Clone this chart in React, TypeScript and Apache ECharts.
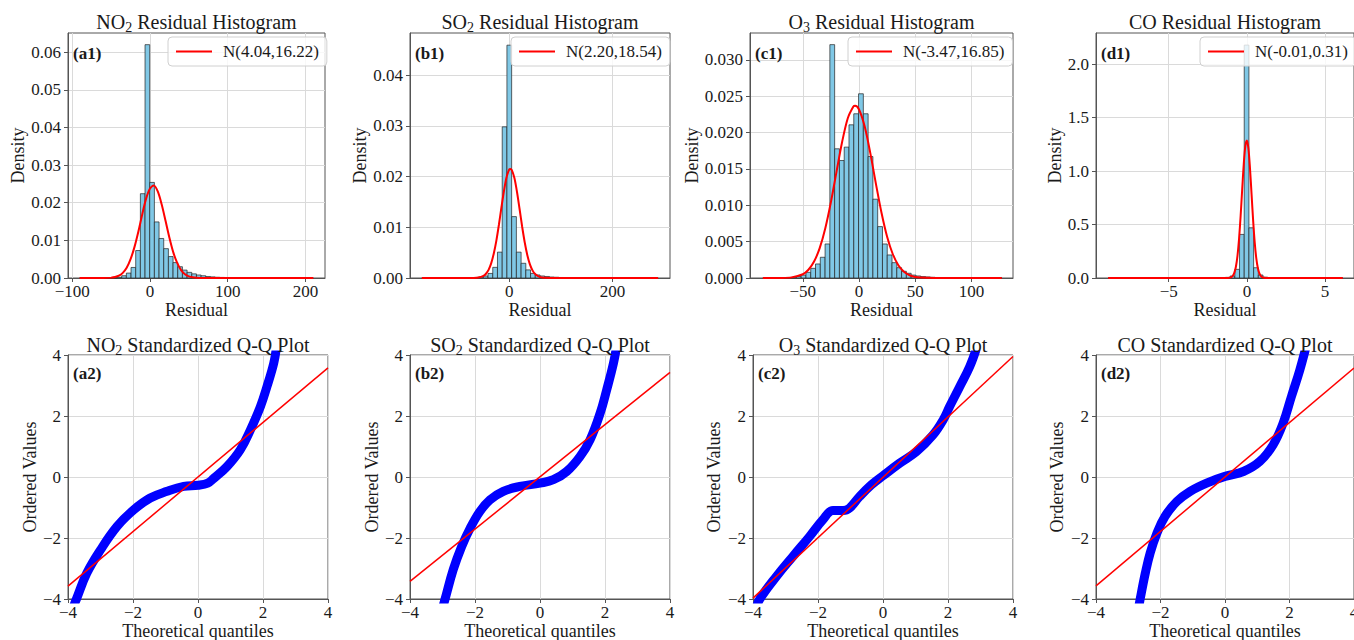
import React, { useEffect, useRef } from "react";
import * as echarts from "echarts";

const FONT = "Liberation Serif";

// ---------- histogram bins (first edge, width, densities) ----------
const no2BinStart = -90.5;
const no2BinWidth = 6.01;
const no2Density = [
  0, 0, 0, 0, 0, 0, 0.00002, 0.00005, 0.0002, 0.0006,
  0.0013, 0.0028, 0.0073, 0.0224, 0.062, 0.0254, 0.0149, 0.0105, 0.0078, 0.0057,
  0.0041, 0.003, 0.0021, 0.0015, 0.0011, 0.0008, 0.0006, 0.0004, 0.0003, 0.0002,
  0.00015, 0.0001, 0.00008, 0.00006, 0.00005, 0.00004, 0.00003, 0.00002, 0.00002, 0.00001,
  0.00001, 0.00001, 0.00001, 0.00001, 0, 0, 0, 0, 0, 0,
];

const so2BinStart = -169;
const so2BinWidth = 9.14;
const so2Density = [
  0, 0, 0, 0, 0, 0, 0, 0, 0.00001, 0.00001,
  0.00001, 0.0001, 0.0002, 0.0004, 0.0009, 0.0021, 0.0051, 0.0298, 0.0459, 0.0121,
  0.0051, 0.0029, 0.0016, 0.0009, 0.0006, 0.0004, 0.0003, 0.0002, 0.00015, 0.0001,
  0.00008, 0.00006, 0.00004, 0.00003, 0.00002, 0.00001, 0.00001, 0.00001, 0, 0,
  0, 0, 0, 0, 0, 0, 0, 0, 0, 0,
];

const o3BinStart = -85.5;
const o3BinWidth = 4.254;
const o3Density = [
  0.00001, 0.00001, 0.00001, 0.00002, 0.00003, 0.00005, 0.0001, 0.0002, 0.0004, 0.00078,
  0.00133, 0.00193, 0.00285, 0.00468, 0.0321, 0.01777, 0.01616, 0.018, 0.02107, 0.02259,
  0.02534, 0.02259, 0.01671, 0.01084, 0.00707, 0.00468, 0.00317, 0.00211, 0.00142, 0.00092,
  0.00065, 0.0004, 0.00028, 0.0002, 0.00015, 0.0001, 0.00007, 0.00005, 0.00003, 0.00002,
  0.00001, 0.00001, 0.00001, 0.00001, 0.00001, 0.00001, 0.00001, 0.00001, 0.00001, 0.00001,
];

const coBinStart = -8.87;
const coBinWidth = 0.3;
const coDensity = [
  0, 0, 0, 0, 0, 0, 0, 0, 0, 0,
  0, 0, 0, 0, 0, 0, 0, 0, 0, 0,
  0, 0, 0.0002, 0.0005, 0.002, 0.006, 0.019, 0.081, 0.408, 2.18,
  0.47, 0.096, 0.028, 0.008, 0.003, 0.001, 0.0003, 0.0002, 0, 0,
  0, 0, 0, 0, 0, 0, 0, 0, 0, 0,
];

// ---------- fitted normal curves ----------
const no2Fit = [
  [-90.5, 0], [-60, 0.00001], [-50, 0.0001], [-45, 0.00026], [-40, 0.0006], [-35, 0.00136],
  [-30, 0.0027], [-25, 0.005], [-20, 0.0082], [-15, 0.0123], [-10, 0.0169], [-5, 0.0211],
  [0, 0.0238], [5, 0.0246], [10, 0.023], [15, 0.0196], [20, 0.0152], [25, 0.0107],
  [30, 0.0068], [35, 0.004], [40, 0.0021], [45, 0.001], [50, 0.00044], [55, 0.00018],
  [60, 0.00006], [70, 0.00001], [210.1, 0],
];
const so2Fit = [
  [-169, 0], [-80, 0], [-70, 0.00001], [-60, 0.00008], [-50, 0.00041], [-45, 0.00084],
  [-40, 0.0016], [-35, 0.00288], [-30, 0.0048], [-25, 0.00733], [-20, 0.0105], [-15, 0.014],
  [-10, 0.0173], [-5, 0.01995], [0, 0.0214], [2, 0.0215], [5, 0.02128], [10, 0.0197],
  [15, 0.01696], [20, 0.0136], [25, 0.0101], [30, 0.007], [35, 0.0045], [40, 0.0027],
  [45, 0.0015], [50, 0.00078], [60, 0.00017], [70, 0.00003], [80, 0], [288, 0],
];
const o3Fit = [
  [-85.5, 0], [-70, 0.00001], [-60, 0.000085], [-50, 0.00052], [-45, 0.00113], [-40, 0.00226],
  [-35, 0.00411], [-30, 0.00685], [-25, 0.01046], [-20, 0.01464], [-15, 0.01874], [-10, 0.02197],
  [-5, 0.02358], [-3.5, 0.02368], [0, 0.02318], [5, 0.02087], [10, 0.01721], [15, 0.01299],
  [20, 0.00898], [25, 0.00568], [30, 0.0033], [35, 0.00175], [40, 0.00085], [45, 0.00038],
  [50, 0.00015], [60, 0.00002], [70, 0], [127, 0],
];
const coFit = [
  [-8.87, 0], [-1.5, 0], [-1.2, 0.0008], [-1.0, 0.0079], [-0.9, 0.0209], [-0.8, 0.05],
  [-0.7, 0.108], [-0.6, 0.21], [-0.5, 0.369], [-0.4, 0.583], [-0.3, 0.831], [-0.2, 1.067],
  [-0.1, 1.234], [0, 1.286], [0.1, 1.208], [0.2, 1.023], [0.3, 0.781], [0.4, 0.537],
  [0.5, 0.333], [0.6, 0.186], [0.7, 0.0934], [0.8, 0.0424], [0.9, 0.0173], [1.0, 0.0064],
  [1.2, 0.0008], [1.5, 0], [6.13, 0],
];

// ---------- Q-Q data ----------
const no2QQ = [
  [-3.85, -4.3], [-3.74, -4.0], [-3.42, -3.15], [-3.0, -2.39], [-2.49, -1.62], [-1.98, -1.08],
  [-1.47, -0.69], [-0.95, -0.47], [-0.44, -0.31], [0, -0.27], [0.3, -0.2], [0.48, -0.05],
  [0.89, 0.34], [1.3, 0.89], [1.61, 1.54], [1.92, 2.31], [2.12, 2.96], [2.33, 3.73], [2.42, 4.3],
];
const so2QQ = [
  [-3.0, -4.3], [-2.92, -4.0], [-2.67, -3.04], [-2.41, -2.28], [-2.15, -1.68], [-1.85, -1.13],
  [-1.54, -0.75], [-1.13, -0.47], [-0.62, -0.31], [0, -0.2], [0.41, -0.09], [0.82, 0.18],
  [1.23, 0.67], [1.54, 1.22], [1.85, 2.09], [2.05, 2.85], [2.26, 3.73], [2.36, 4.3],
];
const o3QQ = [
  [-3.9, -4.3], [-3.79, -4.0], [-3.28, -3.26], [-2.77, -2.6], [-2.26, -1.95], [-1.85, -1.4],
  [-1.54, -1.1], [-1.23, -1.1], [-1.03, -1.02], [-0.72, -0.64], [-0.36, -0.26], [0, 0.04],
  [0.51, 0.45], [1.03, 0.83], [1.54, 1.38], [1.85, 1.87], [2.05, 2.31], [2.36, 2.96],
  [2.67, 3.62], [2.9, 4.3],
];
const coQQ = [
  [-2.68, -4.3], [-2.63, -4.0], [-2.47, -3.15], [-2.32, -2.49], [-2.11, -1.84], [-1.86, -1.29],
  [-1.49, -0.8], [-1.08, -0.47], [-0.57, -0.2], [0, 0.02], [0.57, 0.18], [1.08, 0.51],
  [1.49, 1.05], [1.8, 1.76], [2.06, 2.64], [2.32, 3.51], [2.52, 4.3],
];
const no2RefLine = [[-4, -3.58], [4, 3.58]];
const so2RefLine = [[-4, -3.42], [4, 3.43]];
const o3RefLine = [[-4, -3.97], [4, 3.95]];
const coRefLine = [[-4, -3.57], [4, 3.57]];

// ---------- labels & ticks ----------
const fitNames = ["N(4.04,16.22)", "N(2.20,18.54)", "N(-3.47,16.85)", "N(-0.01,0.31)"];
const histTitles = [
  "{t|NO}{s|2}{t| Residual Histogram}",
  "{t|SO}{s|2}{t| Residual Histogram}",
  "{t|O}{s|3}{t| Residual Histogram}",
  "{t|CO Residual Histogram}",
];
const qqTitles = [
  "{t|NO}{s|2}{t| Standardized Q-Q Plot}",
  "{t|SO}{s|2}{t| Standardized Q-Q Plot}",
  "{t|O}{s|3}{t| Standardized Q-Q Plot}",
  "{t|CO Standardized Q-Q Plot}",
];
const histTags = ["(a1)", "(b1)", "(c1)", "(d1)"];
const qqTags = ["(a2)", "(b2)", "(c2)", "(d2)"];
const histXTicks = [[-100, 0, 100, 200], [0, 200], [-50, 0, 50, 100], [-5, 0, 5]];
const histYTicks = [
  [0, 0.01, 0.02, 0.03, 0.04, 0.05, 0.06],
  [0, 0.01, 0.02, 0.03, 0.04],
  [0, 0.005, 0.01, 0.015, 0.02, 0.025, 0.03],
  [0, 0.5, 1.0, 1.5, 2.0],
];
const qqTicks = [-4, -2, 0, 2, 4];
const histYDecimals = [2, 2, 3, 1];
const histXRange = [[-105.5, 225.2], [-192, 311], [-97, 137], [-9.65, 6.85]];
const histYMax = [0.0651, 0.0483, 0.0337, 2.293];

// ---------- layout ----------
const topPanels = [
  { left: 68, top: 33, width: 257, height: 245, yGap: 39, legendLeft: 168 },
  { left: 410, top: 33, width: 260, height: 245, yGap: 39, legendLeft: 511 },
  { left: 750, top: 33, width: 263, height: 245, yGap: 43, legendLeft: 848 },
  { left: 1096, top: 33, width: 258, height: 245, yGap: 31, legendLeft: 1200 },
];
const bottomPanels = [
  { left: 68, top: 355, width: 260, height: 244, yGap: 29 },
  { left: 410, top: 355, width: 260, height: 244, yGap: 29 },
  { left: 753, top: 355, width: 260, height: 244, yGap: 30 },
  { left: 1096, top: 355, width: 258, height: 244, yGap: 30 },
];

const AXIS_COLOR = "#555";
const GRID_COLOR = "#dadada";
const TEXT_COLOR = "#1a1a1a";

const fmtNum = (v: number, d = 0) => {
  const s = Math.abs(v).toFixed(d);
  return v < 0 ? "\u2212" + s : s;
};

function makeBins(start: number, width: number, dens: number[]) {
  return dens.map((d, i) => [start + i * width, start + (i + 1) * width, d]);
}

export default function App() {
  const ref = useRef<HTMLDivElement>(null);

  useEffect(() => {
    if (!ref.current) return;
    const chart = echarts.init(ref.current, null, { renderer: "svg" });

    const bins = [
      makeBins(no2BinStart, no2BinWidth, no2Density),
      makeBins(so2BinStart, so2BinWidth, so2Density),
      makeBins(o3BinStart, o3BinWidth, o3Density),
      makeBins(coBinStart, coBinWidth, coDensity),
    ];
    const fits = [no2Fit, so2Fit, o3Fit, coFit];
    const qqs = [no2QQ, so2QQ, o3QQ, coQQ];
    const refs = [no2RefLine, so2RefLine, o3RefLine, coRefLine];

    const mkLabel = (margin: number, fmt: (v: number) => string, custom: number[]) => ({
      fontSize: 17,
      fontFamily: FONT,
      color: TEXT_COLOR,
      margin,
      formatter: fmt,
      customValues: custom,
    });
    const mkName = () => ({ fontFamily: FONT, fontSize: 18, color: TEXT_COLOR });
    const mkAxisLine = () => ({ show: true, onZero: false, lineStyle: { color: AXIS_COLOR, width: 1 } });
    const mkTick = (custom: number[]) => ({ show: true, inside: false, length: 4, customValues: custom, lineStyle: { color: AXIS_COLOR, width: 1 } });
    const mkSplit = () => ({ show: true, lineStyle: { color: GRID_COLOR, width: 1 } });
    const mkGrid = (p: any) => ({
      left: p.left, top: p.top, width: p.width, height: p.height, show: true,
      borderColor: AXIS_COLOR, borderWidth: 1, backgroundColor: "transparent",
      containLabel: false, outerBoundsMode: "none",
    });

    const grids: any[] = [];
    const xAxes: any[] = [];
    const yAxes: any[] = [];
    const series: any[] = [];
    const legends: any[] = [];
    const graphics: any[] = [];

    const mkRichTitle = () => ({
      t: { fontFamily: FONT, fontSize: 20, lineHeight: 24, fill: TEXT_COLOR },
      s: { fontFamily: FONT, fontSize: 14, lineHeight: 14, verticalAlign: "bottom", fill: TEXT_COLOR },
    });

    // histograms
    topPanels.forEach((p, i) => {
      grids.push(mkGrid(p));
      xAxes.push({
        type: "value", gridIndex: i, min: histXRange[i][0], max: histXRange[i][1],
        name: "Residual", nameLocation: "middle", nameGap: 21, nameTextStyle: mkName(),
        axisLine: mkAxisLine(), axisTick: mkTick(histXTicks[i]),
        axisLabel: mkLabel(5, (v) => fmtNum(v, 0), histXTicks[i]),
        splitLine: mkSplit(),
      });
      yAxes.push({
        type: "value", gridIndex: i, min: 0, max: histYMax[i],
        name: "Density", nameLocation: "middle", nameGap: p.yGap, nameTextStyle: mkName(),
        axisLine: mkAxisLine(), axisTick: mkTick(histYTicks[i]),
        axisLabel: mkLabel(7, (v) => v.toFixed(histYDecimals[i]), histYTicks[i]),
        splitLine: mkSplit(),
      });
      series.push({
        type: "custom", xAxisIndex: i, yAxisIndex: i, data: bins[i], encode: { x: [0, 1], y: 2 }, z: 2, silent: true,
        renderItem: (_params: any, api: any) => {
          const a = api.coord([api.value(0), api.value(2)]);
          const b = api.coord([api.value(1), 0]);
          return {
            type: "rect",
            shape: { x: a[0], y: a[1], width: b[0] - a[0], height: b[1] - a[1] },
            style: { fill: "#80c8e6", stroke: "#222", lineWidth: 0.7 },
          };
        },
      });
      series.push({
        type: "line", name: fitNames[i], xAxisIndex: i, yAxisIndex: i, data: fits[i],
        showSymbol: false, smooth: 0.3, z: 4, silent: true,
        lineStyle: { color: "#ff0000", width: 2 }, itemStyle: { color: "#ff0000" },
      });
      legends.push({
        data: [fitNames[i]], left: p.legendLeft, top: 37, orient: "horizontal",
        icon: "rect", itemWidth: 36, itemHeight: 2, selectedMode: false,
        padding: [6, 8, 6, 8], backgroundColor: "rgba(255,255,255,0.8)",
        borderColor: "#d0d0d0", borderWidth: 1, borderRadius: 4, z: 10,
        textStyle: { fontFamily: FONT, fontSize: 17, color: TEXT_COLOR, padding: [0, 0, 0, 6] },
      });
      graphics.push({
        type: "text", x: p.left + p.width / 2, y: 22, z: 20,
        style: { text: histTitles[i], align: "center", verticalAlign: "middle", rich: mkRichTitle() },
      });
      graphics.push({
        type: "text", x: p.left + 5, y: 53, z: 20,
        style: { text: histTags[i], align: "left", verticalAlign: "middle", fontFamily: FONT, fontSize: 17, fontWeight: "bold", fill: TEXT_COLOR },
      });
    });

    // Q-Q plots
    bottomPanels.forEach((p, j) => {
      const i = j + 4;
      grids.push(mkGrid(p));
      xAxes.push({
        type: "value", gridIndex: i, min: -4, max: 4, interval: 2,
        name: "Theoretical quantiles", nameLocation: "middle", nameGap: 22, nameTextStyle: mkName(),
        axisLine: mkAxisLine(), axisTick: mkTick(qqTicks),
        axisLabel: mkLabel(5, (v) => fmtNum(v, 0), qqTicks),
        splitLine: mkSplit(),
      });
      yAxes.push({
        type: "value", gridIndex: i, min: -4, max: 4, interval: 2,
        name: "Ordered Values", nameLocation: "middle", nameGap: p.yGap, nameTextStyle: mkName(),
        axisLine: mkAxisLine(), axisTick: mkTick(qqTicks),
        axisLabel: mkLabel(7, (v) => fmtNum(v, 0), qqTicks),
        splitLine: mkSplit(),
      });
      series.push({
        type: "line", xAxisIndex: i, yAxisIndex: i, data: qqs[j], showSymbol: false, smooth: 0.4,
        clip: true, z: 2, silent: true,
        lineStyle: { color: "#0000ff", width: 9 }, itemStyle: { color: "#0000ff" },
      });
      series.push({
        type: "line", xAxisIndex: i, yAxisIndex: i, data: refs[j], showSymbol: false,
        clip: true, z: 3, silent: true,
        lineStyle: { color: "#ff0000", width: 1.5 }, itemStyle: { color: "#ff0000" },
      });
      graphics.push({
        type: "text", x: p.left + p.width / 2, y: 345, z: 20,
        style: { text: qqTitles[j], align: "center", verticalAlign: "middle", rich: mkRichTitle() },
      });
      graphics.push({
        type: "text", x: p.left + 5, y: 373, z: 20,
        style: { text: qqTags[j], align: "left", verticalAlign: "middle", fontFamily: FONT, fontSize: 17, fontWeight: "bold", fill: TEXT_COLOR },
      });
    });

    chart.setOption({
      animation: false,
      backgroundColor: "#ffffff",
      grid: grids,
      xAxis: xAxes,
      yAxis: yAxes,
      legend: legends,
      series,
      graphic: graphics,
    });

    return () => chart.dispose();
  }, []);

  return (
    <div
      ref={ref}
      style={{ position: "absolute", left: 0, top: 0, width: 1354, height: 640, background: "#fff" }}
    />
  );
}
